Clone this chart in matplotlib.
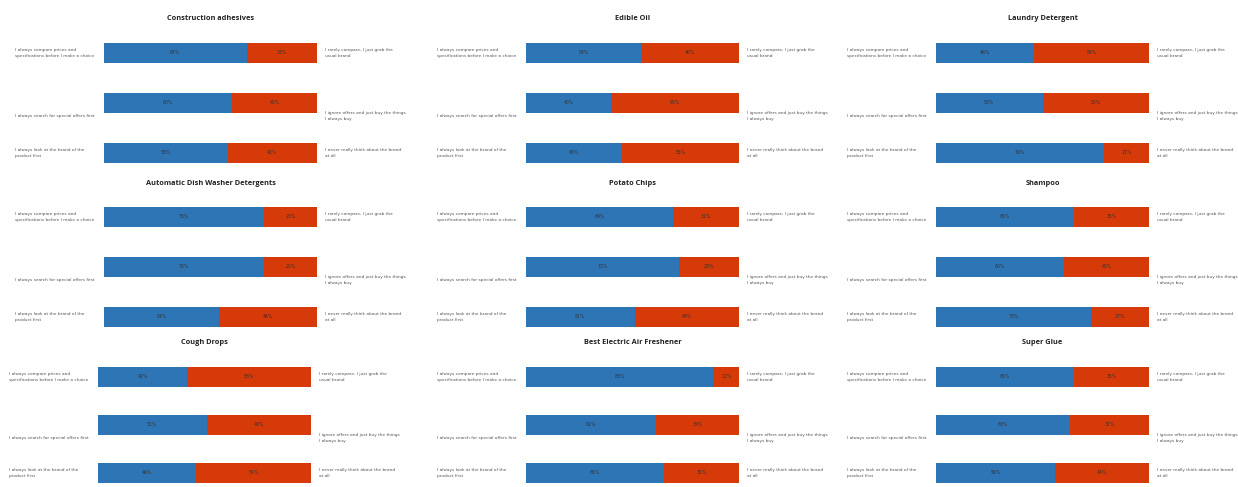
import matplotlib
matplotlib.use("Agg")
import matplotlib.pyplot as plt

# survey answers: share agreeing with left statement (blue), rest is right statement (red)
titles = [
    "Construction adhesives", "Edible Oil", "Laundry Detergent",
    "Automatic Dish Washer Detergents", "Potato Chips", "Shampoo",
    "Cough Drops", "Best Electric Air Freshener", "Super Glue",
]
blue_share = [
    [67, 60, 58], [54, 40, 45], [46, 50, 79],
    [75, 75, 54], [69, 72, 51], [65, 60, 73],
    [42, 51, 46], [88, 61, 65], [65, 63, 56],
]
red_share = [[100 - v for v in row] for row in blue_share]

left_labels = [
    "I always compare prices and\nspecifications before I make a choice",
    "I always search for special offers first",
    "I always look at the brand of the\nproduct first",
]
right_labels = [
    "I rarely compare, I just grab the\nusual brand",
    "I ignore offers and just buy the things\nI always buy",
    "I never really think about the brand\nat all",
]

BLUE = "#2E75B6"
RED = "#D63A08"

W, H = 1238, 487
fig = plt.figure(figsize=(W / 100, H / 100), dpi=100)
fig.patch.set_facecolor("white")

col_left = [104, 526, 936]
bar_w = 213
row_top = [53, 217, 377]
row_gap = [50, 50, 48]


def fx(x):
    return x / W


def fy(y):
    return 1 - y / H


for i, title in enumerate(titles):
    r, c = divmod(i, 3)
    x0 = col_left[c] - (6 if (r == 2 and c == 0) else 0)
    yc = row_top[r]
    g = row_gap[r]
    ax = fig.add_axes([fx(x0), fy(yc + 2.5 * g), bar_w / W, 3 * g / H])
    ypos = [0, 1, 2]
    ax.barh(ypos, blue_share[i], height=0.4, color=BLUE, edgecolor="none")
    ax.barh(ypos, red_share[i], left=blue_share[i], height=0.4, color=RED, edgecolor="none")
    ax.set_xlim(0, 100)
    ax.set_ylim(2.5, -0.5)
    ax.axis("off")
    for k in range(3):
        b, rd = blue_share[i][k], red_share[i][k]
        ax.text(b / 2, k, f"{b}%", ha="center", va="center", fontsize=3.3, color="#333333")
        ax.text(b + rd / 2, k, f"{rd}%", ha="center", va="center", fontsize=3.3, color="#333333")

    fig.text(fx(x0 + bar_w / 2), fy(yc - 34), title, ha="center", va="center",
             fontsize=5.3, fontweight="bold", family="Open Sans", color="#222222")

    for k in range(3):
        yk = yc + k * g
        dy = 13 if k == 1 else 0
        fig.text(fx(x0 - 89), fy(yk + dy), left_labels[k], ha="left", va="center",
                 fontsize=3.1, color="#555555", linespacing=1.6)
        fig.text(fx(x0 + bar_w + 8), fy(yk + dy), right_labels[k], ha="left", va="center",
                 fontsize=3.1, color="#555555", linespacing=1.6)

fig.savefig("out.png", dpi=100)
